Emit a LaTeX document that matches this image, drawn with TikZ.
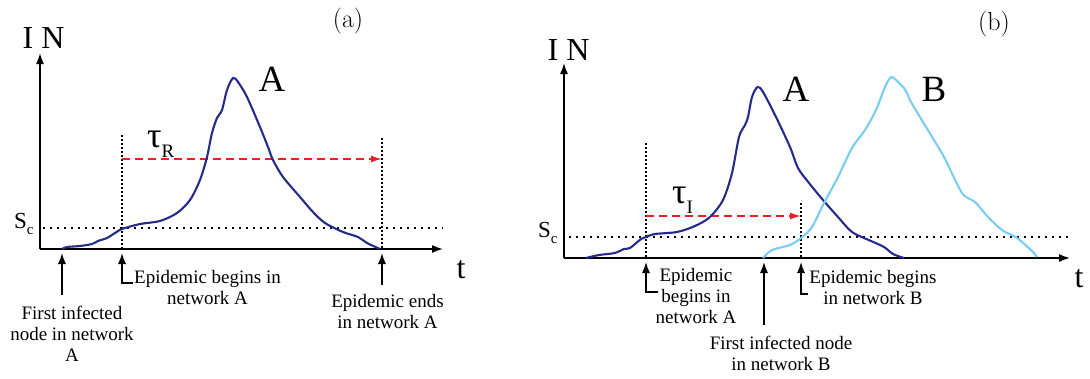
\documentclass[tikz,border=0pt]{standalone}
\usepackage{fontspec}
\newfontfamily\tms{Liberation Serif}
\usetikzlibrary{arrows.meta}
\definecolor{navyc}{RGB}{38,42,140}
\definecolor{skyc}{RGB}{120,205,240}
\definecolor{redc}{RGB}{235,30,35}
\tikzset{
  axisline/.style={line width=1.6pt,-{Latex[length=11pt,width=8pt]}},
  ptr/.style={line width=1.3pt,-{Latex[length=11pt,width=8pt]}},
  hdot/.style={line width=1.6pt,dash pattern=on 1.6pt off 5.4pt},
  vdot/.style={line width=1.6pt,dash pattern=on 1.6pt off 2.4pt},
  reddash/.style={redc,line width=1.5pt,dash pattern=on 8pt off 5pt,-{Latex[length=11pt,width=7pt]}},
  curveA/.style={navyc,line width=2.1pt},
  curveB/.style={skyc,line width=2.1pt},
  lbl/.style={inner sep=0pt,align=center,font=\tms\fontsize{19}{21}\selectfont},
  axlbl/.style={inner sep=0pt,font=\tms\fontsize{32}{32}\selectfont},
  biglbl/.style={inner sep=0pt,font=\tms\fontsize{37}{37}\selectfont},
  tlbl/.style={inner sep=0pt,font=\tms\fontsize{32}{32}\selectfont},
  panel/.style={inner sep=0pt,font=\fontsize{26}{26}\selectfont},
  sclbl/.style={inner sep=0pt,font=\tms\fontsize{23}{23}\selectfont},
  taulbl/.style={inner sep=0pt,font=\tms\fontsize{36}{36}\selectfont},
}
\newcommand{\subsc}[1]{\raisebox{-0.28em}{\fontsize{15}{15}\selectfont #1}}
\newcommand{\subtau}[1]{\raisebox{-0.3em}{\fontsize{19}{19}\selectfont #1}}
\begin{document}
\begin{tikzpicture}[x=1pt,y=-1pt]
\useasboundingbox (0,0) rectangle (1090,378);
% ================= panel (a) =================
\coordinate (Oa) at (40,249);
\coordinate (Ya) at (40,53);
\coordinate (Xa) at (443,249);
\draw[axisline] (Oa) -- (Ya);
\draw[axisline] (Oa) -- (Xa);
\node[axlbl] (INa) at (43.5,38.5) {I N};
\node[tlbl] (ta) at (461,270) {t};
\node[panel] (pa) at (348,21) {(a)};
\node[biglbl] (Aa) at (272,79) {A};
\node[sclbl,anchor=base west] (sca) at (14,228) {S\subsc{c}};
% dotted lines
\coordinate (sca1) at (43,228);
\coordinate (sca2) at (443,228);
\draw[hdot] (sca1) -- (sca2);
\coordinate (v1t) at (122,135);
\coordinate (v1b) at (122,249);
\coordinate (v2t) at (382,138);
\coordinate (v2b) at (382,249);
\draw[vdot] (v1t) -- (v1b);
\draw[vdot] (v2t) -- (v2b);
% red dashed
\coordinate (ra1) at (122,159);
\coordinate (ra2) at (382,159);
\draw[reddash] (ra1) -- (ra2);
\node[taulbl,anchor=base west] (taur) at (147,147) {τ\subtau{R}};
% curve A
\draw[curveA] plot[smooth,tension=0.5] coordinates {
(62,249) (67,247) (80,246) (92,244) (98,241) (107,238) (115,233) (122,229)
(140,224) (160,221) (177,213) (190,200) (200,180) (207,157) (212,133)
(217,118) (222,110) (227,90) (233,78) (238,82) (247,97) (260,127) (268,147)
(273,160) (283,177) (300,197) (313,212) (325,223) (343,232) (358,237)
(367,243) (380,249)};
% labels and pointers
\node[lbl] (fia) at (72,334) {First infected\\node in network\\A};
\node[lbl] (eba) at (207.5,287) {Epidemic begins in\\network A};
\node[lbl] (eea) at (387.5,311) {Epidemic ends\\in network A};
\coordinate (p1t) at (62,253);
\coordinate (p1b) at (62,295);
\draw[ptr] (p1b) -- (p1t);
\coordinate (p2t) at (122,253);
\coordinate (p2c) at (122,283);
\coordinate (p2e) at (133,283);
\draw[ptr] (p2e) -- (p2c) -- (p2t);
\coordinate (p3t) at (382,253);
\coordinate (p3b) at (382,285);
\draw[ptr] (p3b) -- (p3t);
% ================= panel (b) =================
\coordinate (Ob) at (564,258);
\coordinate (Yb) at (564,63);
\coordinate (Xb) at (1070,258);
\draw[axisline] (Ob) -- (Yb);
\draw[axisline] (Ob) -- (Xb);
\node[axlbl] (INb) at (568.5,50) {I N};
\node[tlbl] (tb) at (1079,279) {t};
\node[panel] (pb) at (994,24) {(b)};
\node[biglbl] (Ab) at (796,89) {A};
\node[biglbl] (Bb) at (934,89) {B};
\node[sclbl,anchor=base west] (scb) at (538,237) {S\subsc{c}};
\coordinate (scb1) at (569,237);
\coordinate (scb2) at (1068,237);
\draw[hdot] (scb1) -- (scb2);
\coordinate (w1t) at (646,143);
\coordinate (w1b) at (646,258);
\coordinate (w2t) at (801,203);
\coordinate (w2b) at (801,258);
\draw[vdot] (w1t) -- (w1b);
\draw[vdot] (w2t) -- (w2b);
\coordinate (rb1) at (646,216);
\coordinate (rb2) at (801,216);
\draw[reddash] (rb1) -- (rb2);
\node[taulbl,anchor=base west] (taui) at (672,203) {τ\subtau{I}};
% curve A (b)
\draw[curveA] plot[smooth,tension=0.5] coordinates {
(586,258) (599,255) (615,253) (624,249) (630,248) (641,239) (646,237)
(655,234) (677,232) (695,226) (710,217) (723,200) (732,173) (739,137)
(745,125) (748,117) (752,97) (757.5,87) (763,92) (776,117) (790,147)
(798,168) (809,183) (823,200) (838,217) (852,232) (871,241) (884,247)
(893,254) (904,258)};
% curve B (b)
\draw[curveB] plot[smooth,tension=0.5] coordinates {
(763,258) (772,250) (790,245) (801,238) (812,227) (823,205) (838,177)
(852,148) (865,130) (876,110) (885,87) (891,77) (896,80) (904,88)
(907,93) (911,102) (926,127) (944,157) (962,193) (975,202) (988,217)
(1002,230) (1017,238) (1032,251) (1037,257)};
% labels and pointers (b)
\node[lbl] (ebA) at (696,296) {Epidemic\\begins in\\network A};
\node[lbl] (fib) at (781,353) {First infected node\\in network B};
\node[lbl] (ebB) at (873,287) {Epidemic begins\\in network B};
\coordinate (q1t) at (646,262);
\coordinate (q1c) at (646,292);
\coordinate (q1e) at (658,292);
\draw[ptr] (q1e) -- (q1c) -- (q1t);
\coordinate (q2t) at (764,262);
\coordinate (q2b) at (764,325);
\draw[ptr] (q2b) -- (q2t);
\coordinate (q3t) at (801,262);
\coordinate (q3c) at (801,294);
\coordinate (q3e) at (808,294);
\draw[ptr] (q3e) -- (q3c) -- (q3t);
\end{tikzpicture}
\end{document}
